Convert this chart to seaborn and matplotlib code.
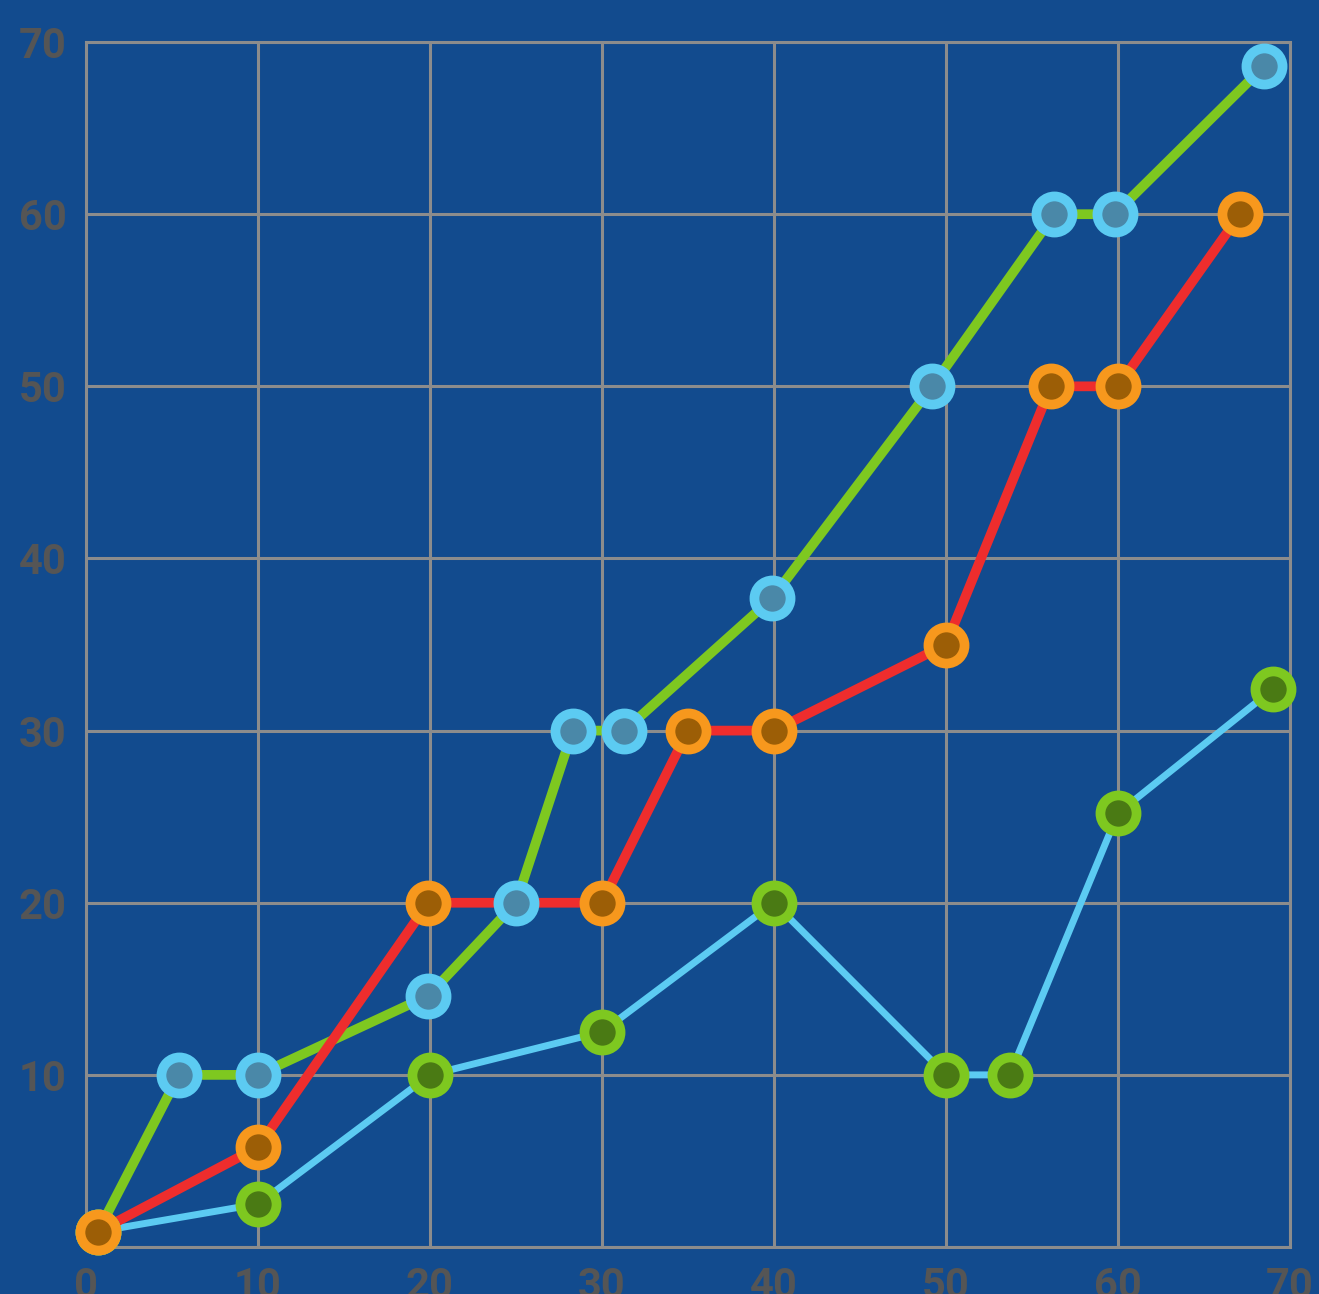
import matplotlib
matplotlib.use("Agg")
import matplotlib.pyplot as plt
import seaborn as sns
import pandas as pd

# series values
green_x = [0.7, 5.4, 10, 19.9, 25, 28.3, 31.3, 39.9, 49.2, 56.3, 59.8, 68.5]
green_y = [0.9, 10, 10, 14.6, 20, 30, 30, 37.7, 50, 60, 60, 68.6]

red_x = [0.7, 10, 19.9, 30, 35, 40, 50, 56.1, 60, 67.1]
red_y = [0.9, 5.8, 20, 20, 30, 30, 35, 50, 50, 60]

blue_x = [0.7, 10, 20, 30, 40, 50, 53.7, 60, 69]
blue_y = [0.9, 2.5, 10, 12.5, 20, 10, 10, 25.2, 32.4]

x_ticks = [0, 10, 20, 30, 40, 50, 60, 70]
y_ticks = [0, 10, 20, 30, 40, 50, 60, 70]
y_tick_labels = ["", "10", "20", "30", "40", "50", "60", "70"]

BG = "#124b8e"
GRID = "#8c8c8c"

sns.set_theme(style="white")
plt.rcParams["font.family"] = ["Roboto", "DejaVu Sans"]

fig = plt.figure(figsize=(13.19, 12.94), dpi=100, facecolor=BG)
ax = fig.add_axes([0.0652, 0.0363, 0.9128, 0.9312])
ax.set_facecolor(BG)

# lines
line_specs = [
    (green_x, green_y, "#7ec820", 7),
    (blue_x, blue_y, "#5ccbf2", 5),
    (red_x, red_y, "#ee2d2d", 7),
]
for xs, ys, col, lw in line_specs:
    df = pd.DataFrame({"x": xs, "y": ys})
    sns.lineplot(data=df, x="x", y="y", ax=ax, color=col, linewidth=lw,
                 estimator=None, sort=False, zorder=3)

# markers
marker_specs = [
    (green_x, green_y, "#4a88a8", "#5ccbf2"),
    (blue_x, blue_y, "#4a7a14", "#7ec820"),
    (red_x, red_y, "#9c5e06", "#f7981d"),
]
for xs, ys, face, edge in marker_specs:
    df = pd.DataFrame({"x": xs, "y": ys})
    sns.scatterplot(data=df, x="x", y="y", ax=ax, s=26 ** 2, color=face,
                    edgecolor=edge, linewidth=7, zorder=4, clip_on=False)

ax.set_xlim(0, 70)
ax.set_ylim(0, 70)
ax.set_xticks(x_ticks)
ax.set_yticks(y_ticks)
ax.set_yticklabels(y_tick_labels)
ax.set_xlabel("")
ax.set_ylabel("")
ax.grid(True, color=GRID, linewidth=2.2, zorder=1)
ax.set_axisbelow(True)
for sp in ax.spines.values():
    sp.set_color(GRID)
    sp.set_linewidth(2.2)
ax.tick_params(axis="both", length=0, labelsize=30, labelcolor="#555555", pad=14)
for lab in ax.get_xticklabels() + ax.get_yticklabels():
    lab.set_fontweight("bold")

fig.savefig("out.png", dpi=100, facecolor=BG)
